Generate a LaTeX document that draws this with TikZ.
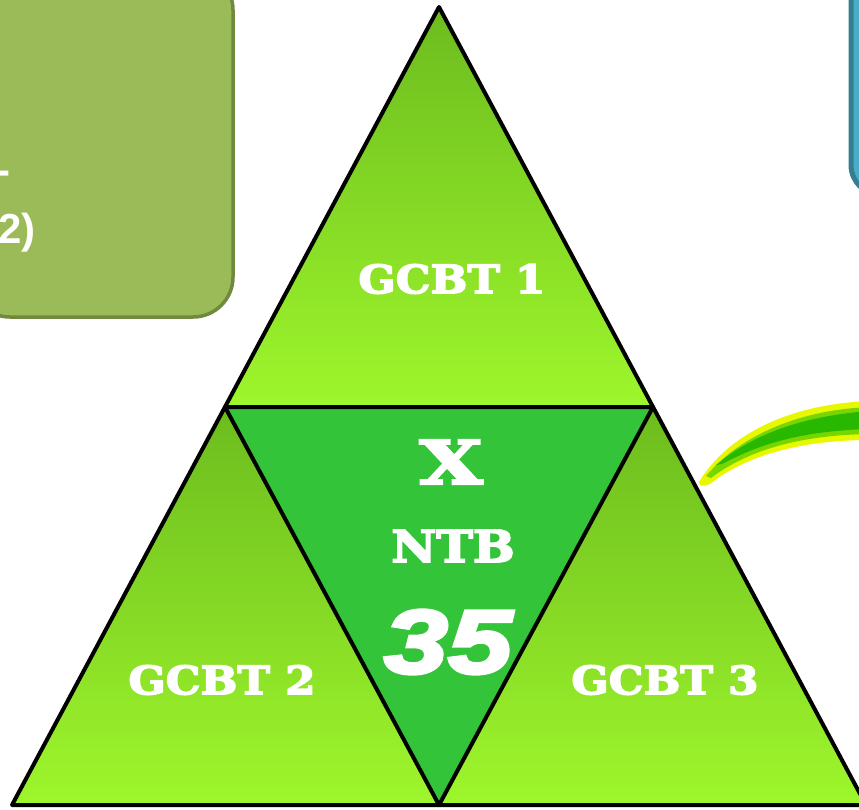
\documentclass[tikz,border=0pt]{standalone}
\usepackage{fontspec}
\setmainfont{Liberation Sans}
\newfontfamily\slab{DejaVu Serif}[UprightFont={* Bold}, FakeStretch=1.12, FakeBold=4]
\newfontfamily\slabwide{DejaVu Serif}[UprightFont={* Bold}, FakeStretch=1.36, FakeBold=4]
\newfontfamily\numfont{Liberation Sans}[UprightFont={* Bold Italic}, FakeStretch=1.28, FakeBold=4]
\definecolor{boxgreen}{HTML}{9BBB59}
\definecolor{boxgreenD}{HTML}{71893F}
\definecolor{boxblue}{HTML}{4BACC6}
\definecolor{boxblueD}{HTML}{357D91}
\definecolor{triTop}{RGB}{108,188,30}
\definecolor{triBot}{RGB}{158,246,44}
\definecolor{midgreen}{RGB}{51,196,58}
\definecolor{swYellow}{RGB}{232,248,0}
\definecolor{swGreen}{RGB}{120,214,0}
\definecolor{swDark}{RGB}{40,184,0}
\begin{document}
\begin{tikzpicture}[x=1pt,y=-1pt,
  edge/.style={draw=black, line width=4pt, line join=round},
  lbl/.style={text=white, font=\slab\fontsize{39}{44}\selectfont, inner sep=0pt},
  boxtext/.style={text=white, font=\bfseries\fontsize{42}{48}\selectfont, inner sep=0pt}]
\useasboundingbox (0,0) rectangle (859,809);
\fill[white] (0,0) rectangle (859,809);
% corner boxes
\draw[fill=boxgreen, draw=boxgreenD, line width=3.5pt, rounded corners=40pt] (-30,-30) rectangle (233,317);
\node[boxtext, anchor=east] (t1) at (11,178) {-};
\node[boxtext, anchor=east] (t2) at (36,233) {2)};
\draw[fill=boxblue, draw=boxblueD, line width=5pt, rounded corners=30pt] (851,-30) rectangle (910,195);
% triangle points
\coordinate (A) at (439,7);
\coordinate (L) at (12,805);
\coordinate (R) at (866,805);
\coordinate (ML) at (225,407);
\coordinate (MR) at (653,407);
\coordinate (MB) at (439,805);
\shade[top color=triTop, bottom color=triBot] (A) -- (ML) -- (MR) -- cycle;
\shade[top color=triTop, bottom color=triBot] (ML) -- (L) -- (MB) -- cycle;
\shade[top color=triTop, bottom color=triBot] (MR) -- (MB) -- (R) -- cycle;
\fill[midgreen] (ML) -- (MR) -- (MB) -- cycle;
\draw[edge] (A) -- (L) -- (R) -- cycle;
\draw[edge] (ML) -- (MR) -- (MB) -- cycle;
% swoosh
\fill[swYellow] (699,482) .. controls (728,434) and (790,404) .. (870,401) -- (870,440) .. controls (800,440) and (745,456) .. (710,484) .. controls (704,487) and (698,486) .. (699,482) -- cycle;
\fill[swGreen] (706,476) .. controls (736,440) and (792,410) .. (870,407) -- (870,434) .. controls (800,435) and (748,450) .. (711,478) -- cycle;
\fill[swDark] (716,465) .. controls (750,436) and (800,416) .. (870,411) -- (870,429) .. controls (800,431) and (760,444) .. (722,464) -- cycle;
% labels
\node[lbl] (g1) at (452,279) {GCBT 1};
\node[lbl] (g2) at (222,680) {GCBT 2};
\node[lbl] (g3) at (665,680) {GCBT 3};
\node[lbl, font=\slabwide\fontsize{60}{62}\selectfont] (x) at (451,462) {X};
\node[lbl, font=\slab\fontsize{44}{46}\selectfont] (ntb) at (453,546) {NTB};
\node[text=white, inner sep=0pt, font=\numfont\fontsize{90}{92}\selectfont] (n35) at (448,642) {35};
\end{tikzpicture}
\end{document}
